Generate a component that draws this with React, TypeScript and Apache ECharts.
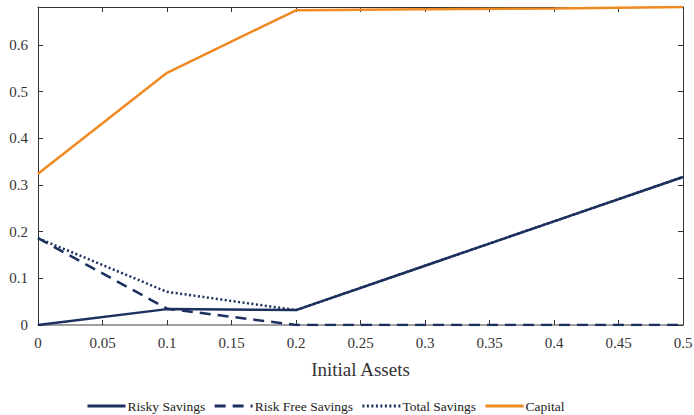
import { useEffect, useRef } from 'react';
import * as echarts from 'echarts';

const ASSETS = [0, 0.1, 0.2, 0.3, 0.4, 0.5];
const RISKY = [0, 0.034, 0.032, 0.127, 0.222, 0.317];
const RISK_FREE = [0.186, 0.035, 0, 0, 0, 0];
const TOTAL = [0.186, 0.071, 0.032, 0.127, 0.222, 0.317];
const CAPITAL = [0.324, 0.54, 0.674, 0.676, 0.678, 0.681];

const NAVY = '#1c2f5e';
const ORANGE = '#ef8a22';
const FONT = '"Liberation Serif", "DejaVu Serif", serif';

const pairs = (ys: number[]) => ASSETS.map((x, i) => [x, ys[i]]);

export default function App() {
  const chartRef = useRef<HTMLDivElement>(null);

  useEffect(() => {
    if (!chartRef.current) return;
    const chart = echarts.init(chartRef.current, undefined, { renderer: 'svg' });

    const tickIn = { show: true, inside: true, length: 5, lineStyle: { color: '#333', width: 1 } };
    // hide the 0.681 end label
    const yFmt = (v: number) => (Math.abs(v * 10 - Math.round(v * 10)) < 1e-6 ? String(+v.toFixed(1)) : '');

    const option: any = {
      animation: false,
      textStyle: { fontFamily: FONT },
      grid: { left: 38, right: 11, top: 7, bottom: 90, outerBoundsMode: 'none', containLabel: false },
      legend: {
        top: 394,
        left: 81,
        itemWidth: 38,
        itemHeight: 12,
        itemGap: 8,
        itemStyle: { opacity: 0 },
        lineStyle: { width: 3 },
        textStyle: { fontFamily: FONT, fontSize: 13.5, color: '#222', padding: [0, 0, 0, -3] },
        data: ['Risky Savings', 'Risk Free Savings', 'Total Savings', 'Capital'],
      },
      xAxis: [
        {
          type: 'value',
          min: 0,
          max: 0.5,
          interval: 0.05,
          name: 'Initial Assets',
          nameLocation: 'middle',
          nameGap: 35,
          nameTextStyle: { fontFamily: FONT, fontSize: 19, color: '#333' },
          axisLine: { onZero: false, lineStyle: { color: '#808080', width: 1.5 } },
          axisTick: tickIn,
          axisLabel: { fontFamily: FONT, fontSize: 15, color: '#333', margin: 10 },
          splitLine: { show: false },
        },
        {
          type: 'value',
          position: 'top',
          min: 0,
          max: 0.5,
          interval: 0.05,
          axisLine: { show: true, onZero: false, lineStyle: { color: '#333', width: 1 } },
          axisTick: tickIn,
          axisLabel: { show: false },
          splitLine: { show: false },
        },
      ],
      yAxis: [
        {
          type: 'value',
          min: 0,
          max: 0.681,
          interval: 0.1,
          axisLine: { show: true, onZero: false, lineStyle: { color: '#333', width: 1 } },
          axisTick: tickIn,
          axisLabel: { fontFamily: FONT, fontSize: 15, color: '#333', margin: 10, formatter: yFmt },
          splitLine: { show: false },
        },
        {
          type: 'value',
          position: 'right',
          min: 0,
          max: 0.681,
          interval: 0.1,
          axisLine: { show: true, onZero: false, lineStyle: { color: '#333', width: 1 } },
          axisTick: tickIn,
          axisLabel: { show: false },
          splitLine: { show: false },
        },
      ],
      series: [
        {
          name: 'Risky Savings',
          type: 'line',
          symbol: 'none',
          data: pairs(RISKY),
          lineStyle: { color: NAVY, width: 2.5 },
          itemStyle: { color: NAVY },
        },
        {
          name: 'Risk Free Savings',
          type: 'line',
          symbol: 'none',
          data: pairs(RISK_FREE),
          lineStyle: { color: NAVY, width: 2.5, type: [11, 7] },
          itemStyle: { color: NAVY },
        },
        {
          name: 'Total Savings',
          type: 'line',
          symbol: 'none',
          data: pairs(TOTAL),
          lineStyle: { color: NAVY, width: 2.5, type: [2, 2.5] },
          itemStyle: { color: NAVY },
        },
        {
          name: 'Capital',
          type: 'line',
          symbol: 'none',
          data: pairs(CAPITAL),
          lineStyle: { color: ORANGE, width: 2.5 },
          itemStyle: { color: ORANGE },
        },
      ],
    };

    chart.setOption(option);
    return () => chart.dispose();
  }, []);

  return (
    <div
      ref={chartRef}
      style={{ position: 'fixed', left: 0, top: 0, width: 694, height: 415, background: '#fff' }}
    />
  );
}
